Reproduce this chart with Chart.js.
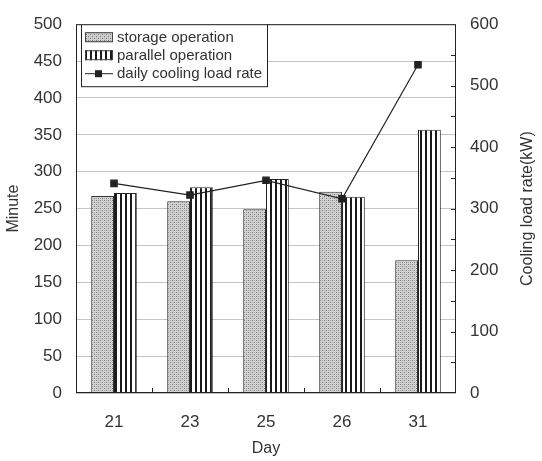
<!DOCTYPE html>
<html>
<head>
<meta charset="utf-8">
<script src="https://cdn.jsdelivr.net/npm/chart.js@4.4.0/dist/chart.umd.min.js"></script>
<style>
  html, body { margin: 0; padding: 0; background: #fff; }
</style>
</head>
<body>
<canvas id="chart" width="542" height="461"></canvas>
<script>
// data
const days = ['21', '23', '25', '26', '31'];
const storageMinutes = [267, 260, 249, 273, 180];
const parallelMinutes = [271, 279, 290, 266, 357];
const coolingLoadRate = [341, 322, 346, 316, 534];

const FONT = "'Liberation Sans', Arial, Helvetica, sans-serif";
const TEXT = '#333';

// dotted grey fill for storage bars
function dotPattern() {
    const c = document.createElement('canvas');
    c.width = 4; c.height = 4;
    const g = c.getContext('2d');
    g.fillStyle = '#d2d2d2';
    g.fillRect(0, 0, 4, 4);
    g.fillStyle = '#7a7a7a';
    g.fillRect(0, 0, 1, 1);
    g.fillRect(2, 2, 1, 1);
    g.fillStyle = '#a6a6a6';
    g.fillRect(2, 0, 1, 1);
    g.fillRect(0, 2, 1, 1);
    return g.createPattern(c, 'repeat');
}

// vertical black/white stripes for parallel bars
function stripePattern() {
    const c = document.createElement('canvas');
    c.width = 5; c.height = 4;
    const g = c.getContext('2d');
    g.fillStyle = '#fff';
    g.fillRect(0, 0, 5, 4);
    g.fillStyle = '#1a1a1a';
    g.fillRect(0, 0, 2, 4);
    return g.createPattern(c, 'repeat');
}

const dots = dotPattern();
const stripes = stripePattern();

// frame, inward ticks, axis titles and boxed legend
const decorations = {
    id: 'decorations',
    afterDraw(chart) {
        const ctx = chart.ctx;
        const area = chart.chartArea;
        const x = chart.scales.x;
        const y1 = chart.scales.y1;
        ctx.save();

        // plot frame
        ctx.strokeStyle = '#222';
        ctx.lineWidth = 1;
        ctx.strokeRect(area.left + 0.5, area.top + 0.5, area.right - area.left - 1, area.bottom - area.top - 1);

        // small inward ticks between categories
        const step = (x.right - x.left) / days.length;
        ctx.beginPath();
        for (let k = 1; k < days.length; k++) {
            const px = Math.round(x.left + k * step) + 0.5;
            ctx.moveTo(px, area.bottom);
            ctx.lineTo(px, area.bottom - 5);
        }
        // right axis ticks every 50
        for (let v = 50; v < 600; v += 50) {
            const py = Math.round(y1.getPixelForValue(v)) + 0.5;
            ctx.moveTo(area.right, py);
            ctx.lineTo(area.right - 5, py);
        }
        ctx.stroke();

        // axis titles
        ctx.fillStyle = TEXT;
        ctx.font = '16px ' + FONT;
        ctx.textAlign = 'center';
        ctx.textBaseline = 'middle';
        const midY = (area.top + area.bottom) / 2;
        ctx.save();
        ctx.translate(14, midY);
        ctx.rotate(-Math.PI / 2);
        ctx.fillText('Minute', 0, 0);
        ctx.restore();
        ctx.save();
        ctx.translate(528, midY);
        ctx.rotate(-Math.PI / 2);
        ctx.fillText('Cooling load rate(kW)', 0, 0);
        ctx.restore();
        ctx.fillText('Day', (area.left + area.right) / 2, 449);

        // legend box
        const lx = 81, ly = area.top, lw = 186, lh = 62;
        ctx.fillStyle = '#fff';
        ctx.fillRect(lx, ly, lw, lh);
        ctx.strokeStyle = '#222';
        ctx.strokeRect(lx + 0.5, ly + 0.5, lw, lh);

        const rows = [
            { label: 'storage operation', fill: dots },
            { label: 'parallel operation', fill: stripes },
            { label: 'daily cooling load rate', line: true }
        ];
        ctx.font = '15px ' + FONT;
        ctx.textAlign = 'left';
        rows.forEach((r, i) => {
            const cy = ly + 13 + i * 18;
            if (r.line) {
                ctx.strokeStyle = '#222';
                ctx.beginPath();
                ctx.moveTo(lx + 4, cy + 0.5);
                ctx.lineTo(lx + 32, cy + 0.5);
                ctx.stroke();
                ctx.fillStyle = '#222';
                ctx.fillRect(lx + 14, cy - 3, 7, 7);
            } else {
                ctx.fillStyle = r.fill;
                ctx.fillRect(lx + 4, cy - 5, 28, 10);
                ctx.strokeStyle = '#444';
                ctx.strokeRect(lx + 4.5, cy - 4.5, 27, 9);
            }
            ctx.fillStyle = TEXT;
            ctx.fillText(r.label, lx + 36, cy + 1);
        });

        ctx.restore();
    }
};

new Chart(document.getElementById('chart'), {
    type: 'bar',
    data: {
        labels: days,
        datasets: [
            {
                type: 'line',
                label: 'daily cooling load rate',
                data: coolingLoadRate,
                yAxisID: 'y1',
                borderColor: '#222',
                borderWidth: 1.2,
                pointStyle: 'rect',
                pointRadius: 4.5,
                pointBackgroundColor: '#222',
                pointBorderColor: '#222',
                tension: 0,
                order: 0
            },
            {
                label: 'storage operation',
                data: storageMinutes,
                yAxisID: 'y',
                backgroundColor: dots,
                borderColor: '#333',
                borderWidth: 1,
                order: 1
            },
            {
                label: 'parallel operation',
                data: parallelMinutes,
                yAxisID: 'y',
                backgroundColor: stripes,
                borderColor: '#222',
                borderWidth: 1,
                order: 1
            }
        ]
    },
    options: {
        responsive: false,
        animation: false,
        datasets: {
            bar: { categoryPercentage: 0.6, barPercentage: 1.0 }
        },
        layout: { padding: { top: 15 } },
        plugins: {
            legend: { display: false },
            tooltip: { enabled: false }
        },
        scales: {
            x: {
                grid: { display: false, drawTicks: false },
                border: { display: false },
                ticks: { color: TEXT, font: { family: FONT, size: 17 }, padding: 19 },
                afterFit: (s) => { s.height = 68; }
            },
            y: {
                position: 'left',
                min: 0,
                max: 500,
                ticks: { stepSize: 50, color: TEXT, font: { family: FONT, size: 17 }, padding: 14 },
                grid: { color: '#c4c4c4', drawTicks: false },
                border: { display: false },
                afterFit: (s) => { s.width = 76; }
            },
            y1: {
                position: 'right',
                min: 0,
                max: 600,
                ticks: { stepSize: 100, color: TEXT, font: { family: FONT, size: 17 }, padding: 14 },
                grid: { display: false, drawTicks: false },
                border: { display: false },
                afterFit: (s) => { s.width = 86; }
            }
        }
    },
    plugins: [decorations]
});
</script>
</body>
</html>
